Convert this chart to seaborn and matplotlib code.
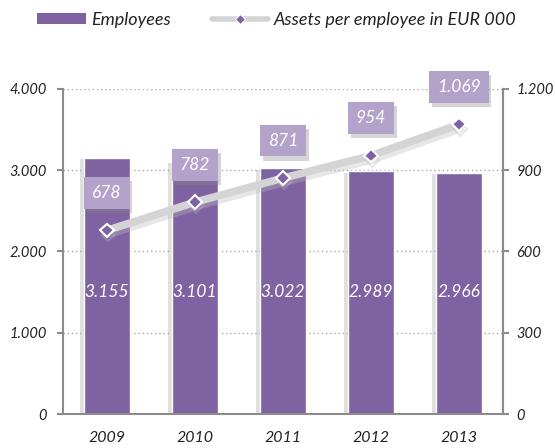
import numpy as np
import seaborn as sns
import matplotlib.pyplot as plt
import matplotlib.patheffects as pe
from matplotlib.lines import Line2D
from matplotlib.patches import Patch

years = ["2009", "2010", "2011", "2012", "2013"]
employees = [3155, 3101, 3022, 2989, 2966]
assets = [678, 782, 871, 954, 1069]
emp_labels = ["3.155", "3.101", "3.022", "2.989", "2.966"]
asset_labels = ["678", "782", "871", "954", "1.069"]
left_ticks = ["0", "1.000", "2.000", "3.000", "4.000"]
right_ticks = ["0", "300", "600", "900", "1.200"]

purple = "#7e62a1"
light_purple = "#b3a3cb"
line_grey = "#d4d4d6"
axis_grey = "#8c8c8c"
text_col = "#222222"

sns.set_style("white")
plt.rcParams['font.family'] = ['Lato', 'DejaVu Sans']

fig = plt.figure(figsize=(5.55, 4.48), dpi=100)
ax = fig.add_axes([63 / 555, 34 / 448, 440 / 555, 325 / 448])

sns.barplot(x=years, y=employees, color=purple, saturation=1, width=0.52, ax=ax)
for p in ax.patches:
    p.set_path_effects([pe.SimplePatchShadow(offset=(-3, -1), shadow_rgbFace="#9a9a9a", alpha=0.3),
                        pe.Normal()])

ax.set_ylim(0, 4000)
ax.set_xlim(-0.5, 4.5)
ax.set_yticks([0, 1000, 2000, 3000, 4000])
ax.set_yticklabels(left_ticks)
ax.yaxis.grid(True, linestyle=(0, (1, 2)), color="#aaaaaa", linewidth=1)
ax.set_axisbelow(True)
ax.spines["top"].set_visible(False)
for s in ["left", "right", "bottom"]:
    ax.spines[s].set_color(axis_grey)
    ax.spines[s].set_linewidth(1.5)
ax.set_xticks(np.arange(-0.5, 5, 1), minor=False)
ax.set_xticklabels([])
ax.set_xticks(range(5), minor=True)
ax.set_xticklabels(years, minor=True)
ax.tick_params(axis="x", which="major", length=4.5, color=axis_grey, width=1.5, direction="out")
ax.tick_params(axis="x", which="minor", length=0, pad=12, labelsize=11.5, labelcolor=text_col)
ax.tick_params(axis="y", length=4.5, color=axis_grey, width=1.5, direction="out", pad=7,
               labelsize=10.5, labelcolor=text_col)
for t in ax.get_xticklabels(minor=True) + ax.get_yticklabels():
    t.set_style("italic")
ax.set_xlabel("")
ax.set_ylabel("")

for i, lab in enumerate(emp_labels):
    ax.text(i, 1500, lab, ha="center", va="center", color="white", fontsize=12.5, style="italic")

ax2 = ax.twinx()
sns.lineplot(x=list(range(5)), y=assets, ax=ax2, color=line_grey, linewidth=5.5,
             marker="D", markersize=7, markerfacecolor=purple, markeredgecolor="white",
             markeredgewidth=1.5,
             path_effects=[pe.SimpleLineShadow(offset=(1, -3), shadow_color="#bbbbbb", alpha=0.35),
                           pe.Normal()])
ax2.set_ylim(0, 1200)
ax2.set_yticks([0, 300, 600, 900, 1200])
ax2.set_yticklabels(right_ticks)
for s in ["top", "left", "bottom"]:
    ax2.spines[s].set_visible(False)
ax2.spines["right"].set_color(axis_grey)
ax2.spines["right"].set_linewidth(1.5)
ax2.tick_params(axis="y", length=4.5, color=axis_grey, width=1.5, direction="out", pad=5,
                labelsize=10.5, labelcolor=text_col)
for t in ax2.get_yticklabels():
    t.set_style("italic")
ax2.set_ylabel("")

for i, (v, lab) in enumerate(zip(assets, asset_labels)):
    ax2.annotate(lab, (i, v), xytext=(0, 27), textcoords="offset points",
                 ha="center", va="center", color="white", fontsize=12.5, style="italic",
                 bbox=dict(boxstyle="square,pad=0.45", fc=light_purple, ec="none",
                           path_effects=[pe.SimplePatchShadow(offset=(2, -3), shadow_rgbFace="#888888", alpha=0.35),
                                         pe.Normal()]))

leg_kw = dict(loc="center left", frameon=False, borderpad=0, borderaxespad=0,
              handletextpad=0.3, prop={"size": 13, "style": "italic"}, labelcolor=text_col)
fig.legend([Patch(facecolor=purple, edgecolor="none")], ["Employees"],
           bbox_to_anchor=(37 / 555, 1 - 20 / 448), handlelength=2.7, handleheight=0.55, **leg_kw)
fig.legend([Line2D([0], [0], color=line_grey, linewidth=4, marker="D", markersize=5.5,
                   markerfacecolor=purple, markeredgecolor="white", markeredgewidth=0.8)],
           ["Assets per employee in EUR 000"],
           bbox_to_anchor=(212 / 555, 1 - 20 / 448), handlelength=3.1, **leg_kw)

fig.savefig("out.png", dpi=100)
